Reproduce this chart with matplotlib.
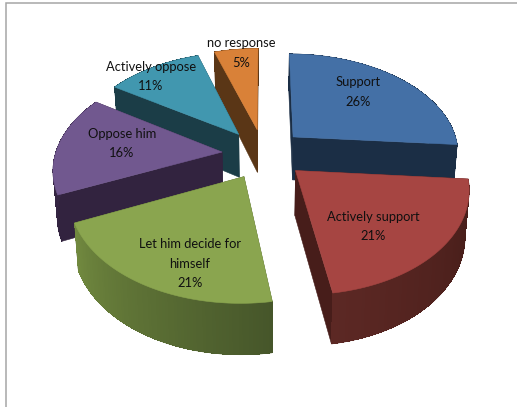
import numpy as np
import matplotlib
matplotlib.use("Agg")
import matplotlib.pyplot as plt
from matplotlib.colors import to_rgb
from matplotlib.patches import Polygon

labels = ["Support", "Actively support", "Let him decide for\nhimself", "Oppose him", "Actively oppose", "no response"]
shares = [26, 21, 21, 16, 11, 5]

top_colors = ["#4470a6", "#a64542", "#8aa54f", "#71588f", "#4197af", "#d98138"]
side_colors = ["#1b2e45", "#471d1a", "#46562a", "#32233f", "#1b3d47", "#5a3616"]
# outer wall colour at the start and end of each slice's arc
rim_colors = [("#1b2e45", "#1b2e45"), ("#441c18", "#5c2824"), ("#46562a", "#71893f"),
              ("#32233f", "#3a2a4a"), ("#1b3d47", "#1b3d47"), ("#5a3616", "#5a3616")]
label_pos = [(358, 92), (373, 226.5), (190, 263.5), (122, 143.5), (151, 76.5), (241, 53)]

# camera of the tilted disc, in figure pixels
cx, cy = 263.5, 153.6
rx, ry = 166.5, 100
persp = 0.15
explode = 0.25
front_twist = np.radians(1.8)
depth = 44
depth_slope = 6
bottom_shrink = 0.98


def project(u, v, lower=False):
    s = 1 / (1 + persp * v)
    x = rx * u * s
    y = -ry * v * s
    if lower:
        x = x * bottom_shrink
        y = y + depth - depth_slope * v
    return cx + x, cy + y


fig = plt.figure(figsize=(5.17, 4.07), dpi=100, facecolor="white")
ax = fig.add_axes([0, 0, 1, 1])
ax.set_xlim(0, 517)
ax.set_ylim(407, 0)
ax.axis("off")

# chart frame, only the top and left sides show
ax.plot([5.5, 5.5, 517], [407, 2.5, 2.5], color="#a6a6a6", lw=1.1, solid_joinstyle="miter")

edges = np.cumsum([0] + shares) / sum(shares) * 2 * np.pi
slices = []
for i in range(len(shares)):
    theta = np.linspace(edges[i], edges[i + 1], 80)
    # the camera skews the near side of the disc a little
    theta = theta + front_twist * (1 - np.cos(theta)) / 2
    mid = (edges[i] + edges[i + 1]) / 2
    slices.append((theta, explode * np.sin(mid), explode * np.cos(mid)))

# painter's order, back slices first
for i in [5, 0, 4, 3, 2, 1]:
    theta, ou, ov = slices[i]
    u = ou + np.sin(theta)
    v = ov + np.cos(theta)

    # the two cut walls running from the apex out to the rim
    for k in [0, -1]:
        us = np.array([ou, u[k]])
        vs = np.array([ov, v[k]])
        x1, y1 = project(us, vs)
        x2, y2 = project(us, vs, lower=True)
        wall = np.column_stack([np.r_[x1, x2[::-1]], np.r_[y1, y2[::-1]]])
        ax.add_patch(Polygon(wall, closed=True, fc=side_colors[i], ec=side_colors[i], lw=0.4))

    # outer wall, a smooth base with narrow strips on it for the shading along the arc
    x1, y1 = project(u, v)
    x2, y2 = project(u, v, lower=True)
    c0, c1 = np.array(to_rgb(rim_colors[i][0])), np.array(to_rgb(rim_colors[i][1]))
    outline = np.column_stack([np.r_[x1, x2[::-1]], np.r_[y1, y2[::-1]]])
    ax.add_patch(Polygon(outline, closed=True, fc=(c0 + c1) / 2, ec=(c0 + c1) / 2, lw=0.5))
    for j in range(len(theta) - 1):
        c = c0 + (c1 - c0) * j / (len(theta) - 2)
        ax.fill([x1[j], x1[j + 1], x2[j + 1], x2[j]], [y1[j], y1[j + 1], y2[j + 1], y2[j]],
                color=c, lw=0, antialiased=False)

    # top face
    xt, yt = project(np.r_[ou, u], np.r_[ov, v])
    ax.add_patch(Polygon(np.column_stack([xt, yt]), closed=True, fc=top_colors[i], ec=top_colors[i], lw=0.4))

for name, share, (lx, ly) in zip(labels, shares, label_pos):
    ax.text(lx, ly, f"{name}\n{share}%", ha="center", va="center", fontsize=9.3,
            family="Lato", color="#101010", linespacing=1.75)

fig.savefig("out.png", dpi=100)
